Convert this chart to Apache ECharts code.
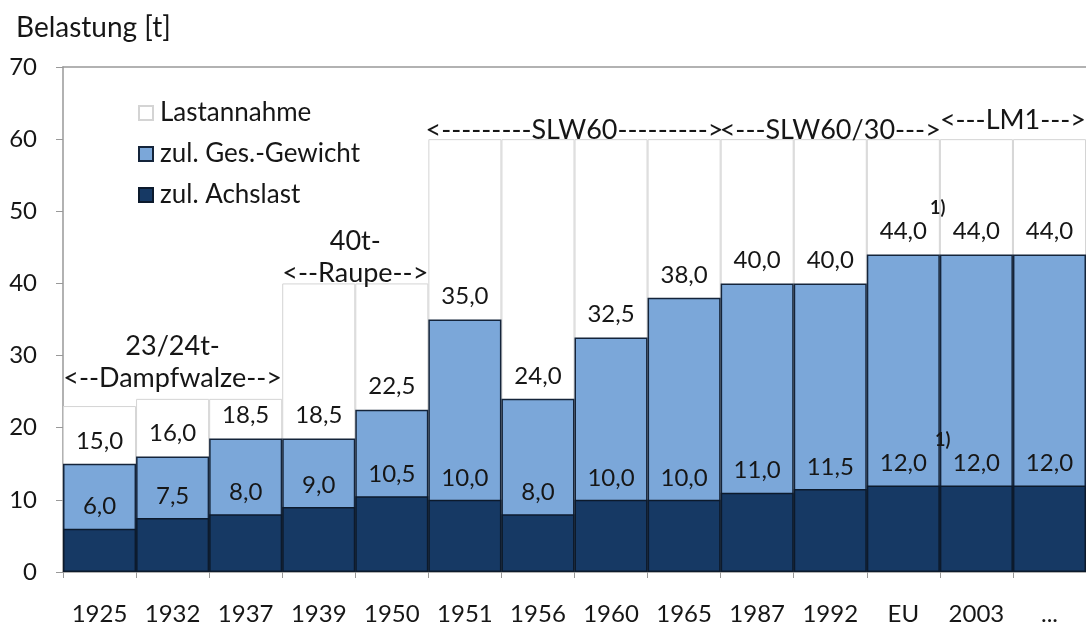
<!DOCTYPE html>
<html>
<head>
<meta charset="utf-8">
<script src="https://cdn.jsdelivr.net/npm/echarts@6/dist/echarts.min.js"></script>
<style>
html,body{margin:0;padding:0;background:#fff;}
#chart{width:1086px;height:630px;}
</style>
</head>
<body>
<div id="chart"></div>
<script>
const categories = ['1925','1932','1937','1939','1950','1951','1956','1960','1965','1987','1992','EU','2003','...'];
const lastannahme = [23, 24, 24, 40, 40, 60, 60, 60, 60, 60, 60, 60, 60, 60];
const gesGewicht = [15.0, 16.0, 18.5, 18.5, 22.5, 35.0, 24.0, 32.5, 38.0, 40.0, 40.0, 44.0, 44.0, 44.0];
const achslast = [6.0, 7.5, 8.0, 9.0, 10.5, 10.0, 8.0, 10.0, 10.0, 11.0, 11.5, 12.0, 12.0, 12.0];
const yTicks = [0, 10, 20, 30, 40, 50, 60, 70];

const groupLabels = ['23/24t-\n<--Dampfwalze-->', '40t-\n<--Raupe-->', '<---------SLW60--------->', '<---SLW60/30--->', '<---LM1--->'];
const groupX = [1.5, 4, 7, 10.5, 13];
const groupY = [29.1, 43.6, 61.2, 61.2, 62.6];
const noteLabels = ['1)', '1)'];
const noteX = [11.97, 12.04];
const noteY = [50.4, 18.3];

const FONT = 'Lato';
const TXT = '#161616';
const fmt = v => v.toFixed(1).replace('.', ',');

const chart = echarts.init(document.getElementById('chart'), null, {renderer: 'canvas'});
chart.setOption({
  animation: false,
  backgroundColor: '#fff',
  textStyle: {fontFamily: FONT},
  title: {
    text: 'Belastung [t]', left: 11, top: 9,
    textStyle: {fontFamily: FONT, fontSize: 28, fontWeight: 'normal', color: TXT}
  },
  legend: {
    orient: 'vertical', left: 133, top: 95,
    itemWidth: 14, itemHeight: 14, itemGap: 15,
    textStyle: {fontFamily: FONT, fontSize: 26, color: TXT, padding: [0, 0, 0, 2]},
    data: [
      {name: 'Lastannahme', icon: 'rect'},
      {name: 'zul. Ges.-Gewicht', icon: 'rect'},
      {name: 'zul. Achslast', icon: 'rect'}
    ]
  },
  grid: {left: 63, top: 67, width: 1032, height: 505, containLabel: false},
  xAxis: [{
    type: 'category', data: categories, boundaryGap: true,
    axisLine: {lineStyle: {color: '#999', width: 1.5}},
    axisTick: {show: true, length: 6, lineStyle: {color: '#999'}},
    axisLabel: {fontFamily: FONT, fontSize: 24, color: TXT, margin: 30, interval: 0}
  }, {
    type: 'value', min: 0, max: 14, position: 'top',
    axisLine: {show: true, onZero: false, lineStyle: {color: '#999', width: 1.5}},
    axisTick: {show: false}, axisLabel: {show: false}, splitLine: {show: false}
  }],
  yAxis: {
    type: 'value', min: 0, max: 70, interval: 10,
    axisLine: {show: true, lineStyle: {color: '#999', width: 1.5}},
    axisTick: {show: true, length: 7, lineStyle: {color: '#999'}},
    axisLabel: {fontFamily: FONT, fontSize: 24, color: TXT, margin: 26},
    splitLine: {show: false}
  },
  series: [
    {
      name: 'Lastannahme', type: 'bar', data: lastannahme,
      barGap: '-100%', barCategoryGap: 0,
      itemStyle: {color: '#ffffff', borderColor: '#d4d4d4', borderWidth: 1}
    },
    {
      name: 'zul. Ges.-Gewicht', type: 'bar', data: gesGewicht,
      barGap: '-100%', barCategoryGap: 0,
      itemStyle: {color: '#7ba7d9', borderColor: '#14243a', borderWidth: 1.5},
      label: {show: true, position: 'top', distance: 11, fontFamily: FONT, fontSize: 24, color: TXT,
        formatter: p => fmt(p.value)}
    },
    {
      name: 'zul. Achslast', type: 'bar', data: achslast,
      barGap: '-100%', barCategoryGap: 0,
      itemStyle: {color: '#163964', borderColor: '#0c1a2c', borderWidth: 1.5},
      label: {show: true, position: 'top', distance: 10, fontFamily: FONT, fontSize: 24, color: TXT,
        formatter: p => fmt(p.value)}
    },
    {
      name: 'groups', type: 'scatter', xAxisIndex: 1, symbolSize: 0,
      itemStyle: {color: TXT, opacity: 1}, silent: true, z: 5,
      data: groupLabels.map((t, i) => ({name: t, value: [groupX[i], groupY[i]]})),
      label: {show: true, position: 'inside', formatter: p => p.name,
        fontFamily: FONT, fontSize: 27, lineHeight: 32, color: TXT, align: 'center',
        textBorderWidth: 0}
    },
    {
      name: 'notes', type: 'scatter', xAxisIndex: 1, symbolSize: 0,
      itemStyle: {color: TXT, opacity: 1}, silent: true, z: 5,
      data: noteLabels.map((t, i) => ({name: t, value: [noteX[i], noteY[i]]})),
      label: {show: true, position: 'inside', formatter: p => p.name,
        fontFamily: FONT, fontSize: 18, fontWeight: 'bold', color: TXT, textBorderWidth: 0}
    }
  ]
});
</script>
</body>
</html>
